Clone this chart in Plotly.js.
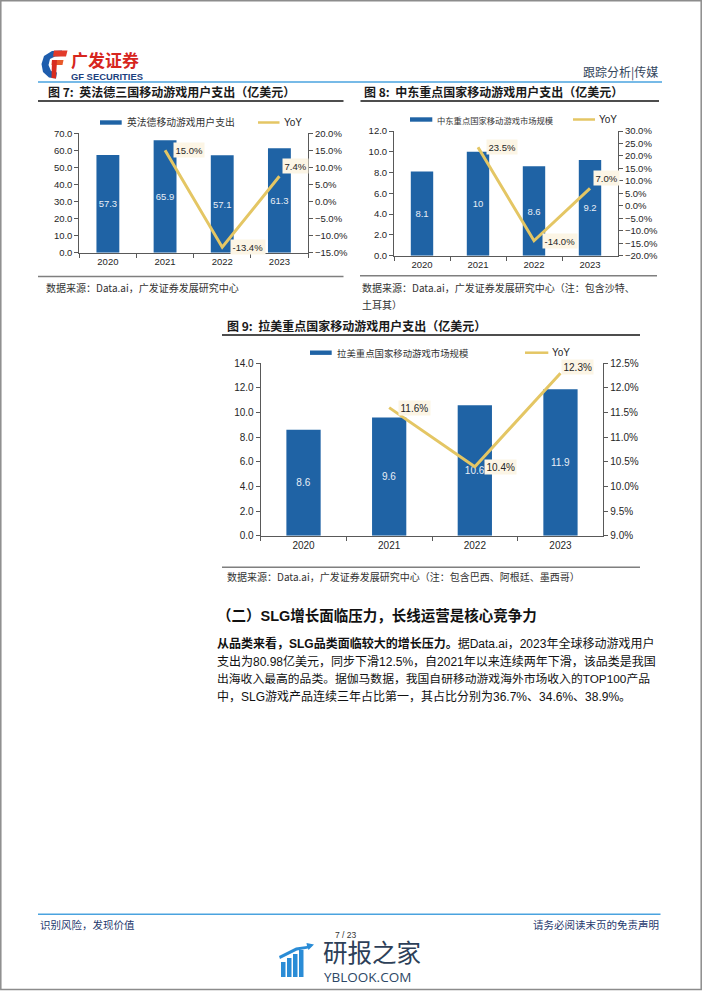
<!DOCTYPE html>
<html><head><meta charset="utf-8">
<script src="https://cdn.plot.ly/plotly-3.0.1.min.js"></script>
<style>html,body{margin:0;padding:0;background:#fff}#chart{width:702px;height:991px}</style>
</head><body><div id="chart"></div>
<script>
// ---------- data ----------
const years = ['2020', '2021', '2022', '2023'];
const yoyYears = ['2021', '2022', '2023'];
const ukfrdeSpend = [57.3, 65.9, 57.1, 61.3];
const ukfrdeYoY = [15.0, -13.4, 7.4];
const meSpend = [8.1, 10, 8.6, 9.2];
const meYoY = [23.5, -14.0, 7.0];
const latamSpend = [8.6, 9.6, 10.6, 11.9];
const latamYoY = [11.6, 10.4, 12.3];
const legendBar7 = '英法德移动游戏用户支出';
const legendBar8 = '中东重点国家移动游戏市场规模';
const legendBar9 = '拉美重点国家移动游戏市场规模';
const legendLine = 'YoY';

// ---------- style ----------
const W = 702, H = 991;
const BAR = '#1F63A5', GOLD = '#E4C664', AXIS = '#595959', TXT = '#262626';
const LAT = 'Liberation Sans, Arial, Noto Sans CJK SC';
const CJK = 'Noto Sans CJK SC, Liberation Sans';
const px = x => x / W, py = y => 1 - y / H;

const annotations = [], shapes = [];
function txt(x, y, text, opt) {
  opt = opt || {};
  annotations.push({xref: 'paper', yref: 'paper', x: px(x), y: py(y), text: text, showarrow: false,
    xanchor: opt.xa || 'left', yanchor: 'middle',
    font: {family: opt.family || CJK, size: opt.size || 12, color: opt.color || TXT}});
}
function hline(x0, x1, y, color, w) {
  shapes.push({type: 'line', xref: 'paper', yref: 'paper', x0: px(x0), x1: px(x1), y0: py(y), y1: py(y), line: {color: color, width: w}});
}
function rect(x0, y0, x1, y1, color) {
  shapes.push({type: 'rect', xref: 'paper', yref: 'paper', x0: px(x0), x1: px(x1), y0: py(y0), y1: py(y1), fillcolor: color, line: {width: 0}});
}
function path(d, color) {
  const s = d.map((p, i) => (i ? 'L' : 'M') + px(p[0]).toFixed(5) + ',' + py(p[1]).toFixed(5)).join(' ') + ' Z';
  shapes.push({type: 'path', xref: 'paper', yref: 'paper', path: s, fillcolor: color, line: {width: 0}});
}

function xAxis(dom, anchor, fs) {
  return {domain: [px(dom[0]), px(dom[1])], anchor: anchor, type: 'category', range: [-0.5, 3.5],
    categoryorder: 'array', categoryarray: years,
    showline: true, linecolor: AXIS, linewidth: 1, ticks: 'outside', tickson: 'boundaries', ticklen: 4,
    tickcolor: AXIS, tickfont: {family: LAT, size: fs, color: TXT}, showgrid: false, zeroline: false, fixedrange: true};
}
function yAxis(dom, anchor, range, dtick, suffix, fs, side, overlay) {
  const a = {anchor: anchor, range: range, dtick: dtick, tick0: range[0], tickformat: '.1f', ticksuffix: suffix || '',
    showline: true, linecolor: AXIS, linewidth: 1, ticks: 'outside', ticklen: 4, tickcolor: AXIS,
    tickfont: {family: LAT, size: fs, color: TXT}, showgrid: false, zeroline: false, fixedrange: true, side: side || 'left'};
  if (overlay) a.overlaying = overlay; else a.domain = [py(dom[0]), py(dom[1])];
  return a;
}

const traces = [];
function chart(xa, ya, ya2, vals, yoy, fs, lfs, offs) {
  traces.push({type: 'bar', x: years, y: vals, xaxis: xa, yaxis: ya, width: 0.4, marker: {color: BAR},
    text: vals.map(String), textposition: 'inside', insidetextanchor: 'middle', constraintext: 'none', textangle: 0,
    textfont: {family: LAT, size: fs, color: '#E8EEF6'}, hoverinfo: 'skip', showlegend: false});
  traces.push({type: 'scatter', mode: 'lines', x: yoyYears, y: yoy, xaxis: xa, yaxis: ya2,
    line: {color: GOLD, width: 3}, hoverinfo: 'skip', showlegend: false, cliponaxis: false});
  yoy.forEach((v, i) => annotations.push({xref: xa, yref: ya2, x: years.indexOf(yoyYears[i]), y: v, text: v.toFixed(1) + '%',
    showarrow: false, xanchor: 'left', yanchor: 'middle', xshift: offs[i][0], yshift: offs[i][1],
    bgcolor: '#FCF5E5', borderpad: 1.5, font: {family: LAT, size: lfs, color: TXT}}));
}

chart('x', 'y', 'y2', ukfrdeSpend, ukfrdeYoY, 9.5, 9.5, [[8, 0], [8, 0], [3, 10]]);
chart('x2', 'y3', 'y4', meSpend, meYoY, 9.5, 9.5, [[8, 0], [8, 0], [3, 10]]);
chart('x3', 'y5', 'y6', latamSpend, latamYoY, 10, 10, [[9, 0], [9, 0], [1, 6]]);

// ---------- page furniture ----------
shapes.push({type: 'rect', xref: 'paper', yref: 'paper', x0: px(0.8), x1: px(701.2), y0: py(0.8), y1: py(989.5), line: {color: '#8c8c8c', width: 1.5}});
// GF logo
path([[62, 50.5], [52, 51], [44, 56], [41.5, 64], [43, 72], [49, 77.5], [56, 78.5], [57, 72.5], [51, 71], [48.5, 65], [50, 59], [55, 56.5], [61, 56]], '#1E5DAD');
path([[54, 50.5], [67.5, 50.5], [66, 56.5], [53, 56.5]], '#E23B2B');
path([[52, 60], [63.5, 60], [62.5, 65], [51.5, 65]], '#E8592A');
path([[52, 60], [57, 60], [56, 78.5], [51.5, 78]], '#D72C20');
txt(69, 59.5, '<b>广发证券</b>', {size: 17, color: '#D7261E'});
txt(69, 77, '<b>GF SECURITIES</b>', {size: 9.4, color: '#1C3F7E', family: LAT});
txt(660, 72, '跟踪分析|传媒', {xa: 'right', size: 12, color: '#34465C'});
hline(38, 662, 82, '#4AA3DF', 1.5);

// figure titles
txt(46, 91.5, '<b>图 7:  英法德三国移动游戏用户支出（亿美元）</b>', {size: 12, color: '#1a1a1a'});
txt(362, 91.5, '<b>图 8:  中东重点国家移动游戏用户支出（亿美元）</b>', {size: 12, color: '#1a1a1a'});
hline(38, 343.5, 101, '#4d4d4d', 2);
hline(360.5, 659, 101, '#4d4d4d', 2);
txt(225, 325, '<b>图 9:  拉美重点国家移动游戏用户支出（亿美元）</b>', {size: 12, color: '#1a1a1a'});
hline(222, 640, 335, '#4d4d4d', 2);

// legends
function legend(y, bx0, bx1, btxt, bfs, lx0, lx1) {
  rect(bx0, y - 2.2, bx1, y + 2.2, BAR);
  txt(bx1 + 3, y, btxt, {size: bfs, color: '#333'});
  hline(lx0, lx1, y, GOLD, 2.5);
  txt(lx1 + 2, y, legendLine, {size: 10, color: TXT, family: LAT});
}
legend(122.5, 100, 121.7, legendBar7, 9.8, 258, 279.5);
legend(119.5, 410, 432.3, legendBar8, 8.3, 573, 595);
legend(352.7, 310, 331.7, legendBar9, 9.4, 525, 548.3);

// sources
hline(38, 343.5, 276.5, '#7f7f7f', 1.5);
hline(360, 657, 275.7, '#7f7f7f', 1.5);
hline(222, 640, 567.3, '#7f7f7f', 1.5);
txt(44, 287.7, '数据来源：Data.ai，广发证券发展研究中心', {size: 10, color: '#333', family: CJK});
txt(360, 287.7, '数据来源：Data.ai，广发证券发展研究中心（注：包含沙特、', {size: 10, color: '#333'});
txt(360, 304.3, '土耳其）', {size: 10, color: '#333'});
txt(225, 576.7, '数据来源：Data.ai，广发证券发展研究中心（注：包含巴西、阿根廷、墨西哥）', {size: 10, color: '#333'});

// section heading and paragraph
txt(215, 615.5, '<b>（二）SLG增长面临压力，长线运营是核心竞争力</b>', {size: 14.5, color: '#111', family: LAT});
const PF = LAT;
txt(215, 643.3, '<b>从品类来看，SLG品类面临较大的增长压力。</b>据Data.ai，2023年全球移动游戏用户', {size: 12, color: '#111', family: PF});
txt(215, 661.3, '支出为80.98亿美元，同步下滑12.5%，自2021年以来连续两年下滑，该品类是我国', {size: 12, color: '#111', family: PF});
txt(215, 678.6, '出海收入最高的品类。据伽马数据，我国自研移动游戏海外市场收入的TOP100产品', {size: 11.8, color: '#111', family: PF});
txt(215, 696, '中，SLG游戏产品连续三年占比第一，其占比分别为36.7%、34.6%、38.9%。', {size: 12, color: '#111', family: PF});

// footer
hline(38, 660.5, 914.3, '#4AA3DF', 1.5);
txt(38, 924, '识别风险，发现价值', {size: 10.5, color: '#1F3A6E'});
txt(660.5, 924, '请务必阅读末页的免责声明', {xa: 'right', size: 10.5, color: '#1F3A6E'});
// watermark
[[281, 962], [287, 958], [293, 954], [299, 950]].forEach(b => rect(b[0], b[1], b[0] + 4.5, 977, '#2A8CD6'));
path([[279, 956], [296, 947.5], [307, 946], [306.5, 943], [314, 944.5], [308.5, 950], [308, 948.5], [297, 950.5], [280, 959]], '#2A8CD6');
txt(321, 951.5, '研报之家', {size: 24.5, color: '#2D3F58'});
txt(322, 976.5, 'YBLOOK.COM', {size: 13.5, color: '#2D4766', family: 'Open Sans, Liberation Sans'});
txt(346, 934.5, '7 / 23', {xa: 'center', size: 8.5, color: '#333', family: LAT});

const layout = {
  width: W, height: H, margin: {l: 0, r: 0, t: 0, b: 0}, paper_bgcolor: '#fff', plot_bgcolor: 'rgba(0,0,0,0)',
  showlegend: false, font: {family: LAT, color: TXT},
  xaxis: xAxis([79.3, 308], 'y', 9.5),
  yaxis: yAxis([252.7, 133.3], 'x', [0, 70], 10, '', 9.5),
  yaxis2: yAxis(null, 'x', [-15, 20], 5, '%', 9.5, 'right', 'y'),
  xaxis2: xAxis([394, 618], 'y3', 9.5),
  yaxis3: yAxis([255.7, 131], 'x2', [0, 12], 2, '', 9.5),
  yaxis4: yAxis(null, 'x2', [-20, 30], 5, '%', 9.5, 'right', 'y3'),
  xaxis3: xAxis([260.7, 603.3], 'y5', 10),
  yaxis5: yAxis([535.7, 363.3], 'x3', [0, 14], 2, '', 10),
  yaxis6: yAxis(null, 'x3', [9, 12.5], 0.5, '%', 10, 'right', 'y5'),
  annotations: annotations, shapes: shapes
};
Plotly.newPlot('chart', traces, layout, {staticPlot: true, displayModeBar: false});
</script></body></html>
